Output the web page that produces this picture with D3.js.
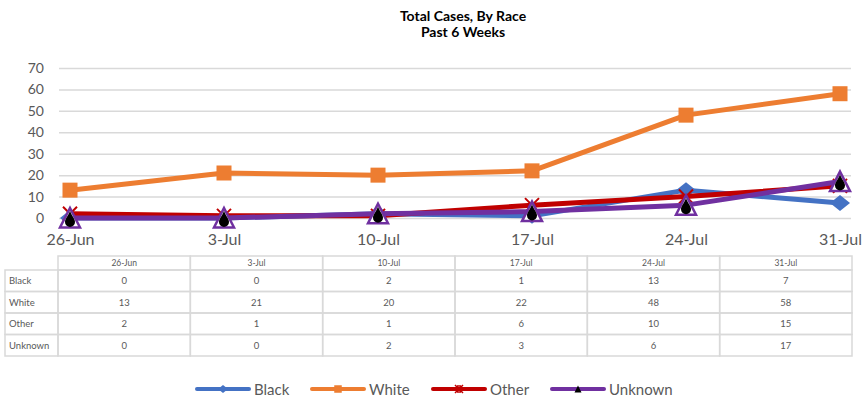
<!DOCTYPE html>
<html>
<head>
<meta charset="utf-8">
<script src="https://cdn.jsdelivr.net/npm/d3@7"></script>
<style>
  body { margin: 0; background: #fff; }
  svg { font-family: Lato, "Open Sans", sans-serif; }
</style>
</head>
<body>
<svg id="chart"></svg>
<script>
// Data
const weeks = ['26-Jun', '3-Jul', '10-Jul', '17-Jul', '24-Jul', '31-Jul'];
const blackCases = [0, 0, 2, 1, 13, 7];
const whiteCases = [13, 21, 20, 22, 48, 58];
const otherCases = [2, 1, 1, 6, 10, 15];
const unknownCases = [0, 0, 2, 3, 6, 17];
const yTicks = [0, 10, 20, 30, 40, 50, 60, 70];

const seriesList = [
  { name: 'Black', values: blackCases, color: '#4472C4', marker: 'diamond' },
  { name: 'White', values: whiteCases, color: '#ED7D31', marker: 'square' },
  { name: 'Other', values: otherCases, color: '#C00000', marker: 'cross' },
  { name: 'Unknown', values: unknownCases, color: '#7030A0', marker: 'triangle' }
];

const w = 864;
const h = 401;
const gridLeft = 59;
const gridRight = 851;
const textColor = '#595959';
const gridColor = '#d9d9d9';

const chart = d3.select('#chart')
  .attr('width', w)
  .attr('height', h);

// Scales
const xScale = d3.scalePoint()
  .domain(weeks)
  .range([70, 840]);

const yScale = d3.scaleLinear()
  .domain([0, 70])
  .range([218, 68]);

const colScale = d3.scaleBand()
  .domain(weeks)
  .range([gridLeft - 1, gridRight + 1]);

// Title
chart.append('text')
  .attr('x', 463).attr('y', 21)
  .attr('text-anchor', 'middle')
  .attr('font-weight', 'bold')
  .attr('font-size', 14)
  .attr('fill', '#000')
  .text('Total Cases, By Race');
chart.append('text')
  .attr('x', 463).attr('y', 37)
  .attr('text-anchor', 'middle')
  .attr('font-weight', 'bold')
  .attr('font-size', 14)
  .attr('fill', '#000')
  .text('Past 6 Weeks');

// Gridlines + y labels
const yAxis = d3.axisLeft(yScale)
  .tickValues(yTicks)
  .tickSize(-(gridRight - gridLeft))
  .tickPadding(15);

const yAxisGroup = chart.append('g')
  .attr('transform', `translate(${gridLeft},0)`)
  .call(yAxis);
yAxisGroup.select('.domain').remove();
yAxisGroup.selectAll('line').attr('stroke', gridColor).attr('stroke-width', 1.5);
yAxisGroup.selectAll('text')
  .attr('fill', textColor)
  .attr('font-size', 14)
  .attr('font-family', 'Lato, sans-serif');

// x labels
const xAxis = d3.axisBottom(xScale).tickSize(0).tickPadding(0);
const xAxisGroup = chart.append('g')
  .attr('transform', 'translate(0,234)')
  .call(xAxis);
xAxisGroup.select('.domain').remove();
xAxisGroup.selectAll('text')
  .attr('fill', textColor)
  .attr('font-size', 16)
  .attr('font-family', 'Lato, sans-serif');

// Marker shapes
function drawMarker(g, type, color, s) {
  if (type === 'diamond') {
    g.append('path')
      .attr('d', `M0,${-8 * s} L${10 * s},0 L0,${8 * s} L${-10 * s},0 Z`)
      .attr('fill', color);
  } else if (type === 'square') {
    g.append('rect')
      .attr('x', -7.5 * s).attr('y', -7.5 * s)
      .attr('width', 15 * s).attr('height', 15 * s)
      .attr('fill', color);
  } else if (type === 'cross') {
    const r = 7 * s;
    g.append('path')
      .attr('d', `M${-r},${-r} L${r},${r} M${r},${-r} L${-r},${r}`)
      .attr('stroke', color)
      .attr('stroke-width', 2);
  } else if (type === 'triangle') {
    const r = 10 * s;
    if (s >= 1) {
      g.append('path')
        .attr('d', `M0,${-r} L${r},${r * 0.95} L${-r},${r * 0.95} Z`)
        .attr('fill', '#fff')
        .attr('stroke', color)
        .attr('stroke-width', 2.5);
      // black drop inside
      g.append('path')
        .attr('d', 'M0,-7 C2,-2 5,1 5,4 A5,5 0 0 1 -5,4 C-5,1 -2,-2 0,-7 Z')
        .attr('fill', '#000');
    } else {
      g.append('path')
        .attr('d', `M0,${-r} L${r},${r} L${-r},${r} Z`)
        .attr('fill', '#000');
    }
  }
}

// Lines
const line = d3.line()
  .x((d, i) => xScale(weeks[i]))
  .y(d => yScale(d));

seriesList.forEach(s => {
  const g = chart.append('g');
  g.append('path')
    .datum(s.values)
    .attr('d', line)
    .attr('fill', 'none')
    .attr('stroke', s.color)
    .attr('stroke-width', 5)
    .attr('stroke-linejoin', 'round');

  s.values.forEach((v, i) => {
    const m = g.append('g')
      .attr('transform', `translate(${xScale(weeks[i])},${yScale(v)})`);
    drawMarker(m, s.marker, s.color, 1);
  });
});

// Data table
const tableTop = 256;
const headerH = 14;
const rowH = 21.5;
const labelLeft = 5;
const table = chart.append('g');

// header cells
weeks.forEach(wk => {
  table.append('rect')
    .attr('x', colScale(wk)).attr('y', tableTop)
    .attr('width', colScale.bandwidth()).attr('height', headerH)
    .attr('fill', 'none').attr('stroke', gridColor).attr('stroke-width', 1.5);
  table.append('text')
    .attr('x', colScale(wk) + colScale.bandwidth() / 2)
    .attr('y', tableTop + 10)
    .attr('text-anchor', 'middle')
    .attr('font-size', 8.5)
    .attr('fill', textColor)
    .text(wk);
});

seriesList.forEach((s, r) => {
  const y0 = tableTop + headerH + r * rowH;
  table.append('rect')
    .attr('x', labelLeft).attr('y', y0)
    .attr('width', colScale(weeks[0]) - labelLeft).attr('height', rowH)
    .attr('fill', 'none').attr('stroke', gridColor).attr('stroke-width', 1.5);
  table.append('text')
    .attr('x', labelLeft + 4).attr('y', y0 + 14)
    .attr('font-size', 9.5)
    .attr('fill', textColor)
    .text(s.name);
  s.values.forEach((v, i) => {
    table.append('rect')
      .attr('x', colScale(weeks[i])).attr('y', y0)
      .attr('width', colScale.bandwidth()).attr('height', rowH)
      .attr('fill', 'none').attr('stroke', gridColor).attr('stroke-width', 1.5);
    table.append('text')
      .attr('x', colScale(weeks[i]) + colScale.bandwidth() / 2)
      .attr('y', y0 + 14)
      .attr('text-anchor', 'middle')
      .attr('font-size', 9.5)
      .attr('fill', textColor)
      .text(v);
  });
});

// Legend
const legendX = [195, 310, 431, 550];
const legendY = 389;
seriesList.forEach((s, i) => {
  const g = chart.append('g').attr('transform', `translate(${legendX[i]},${legendY})`);
  g.append('line')
    .attr('x1', 2).attr('x2', 54)
    .attr('stroke', s.color)
    .attr('stroke-width', 4)
    .attr('stroke-linecap', 'round');
  const m = g.append('g').attr('transform', 'translate(28,0)');
  if (s.marker === 'cross') {
    m.append('path')
      .attr('d', 'M-4,-4 L4,4 M4,-4 L-4,4 M-1,-4 L-1,4 M1,-4 L1,4')
      .attr('stroke', s.color).attr('stroke-width', 1.5);
  } else if (s.marker === 'triangle') {
    drawMarker(m, 'triangle', s.color, 0.35);
  } else {
    drawMarker(m, s.marker, s.color, 0.5);
  }
  g.append('text')
    .attr('x', 59).attr('y', 5.5)
    .attr('font-size', 15)
    .attr('fill', textColor)
    .text(s.name);
});
</script>
</body>
</html>
